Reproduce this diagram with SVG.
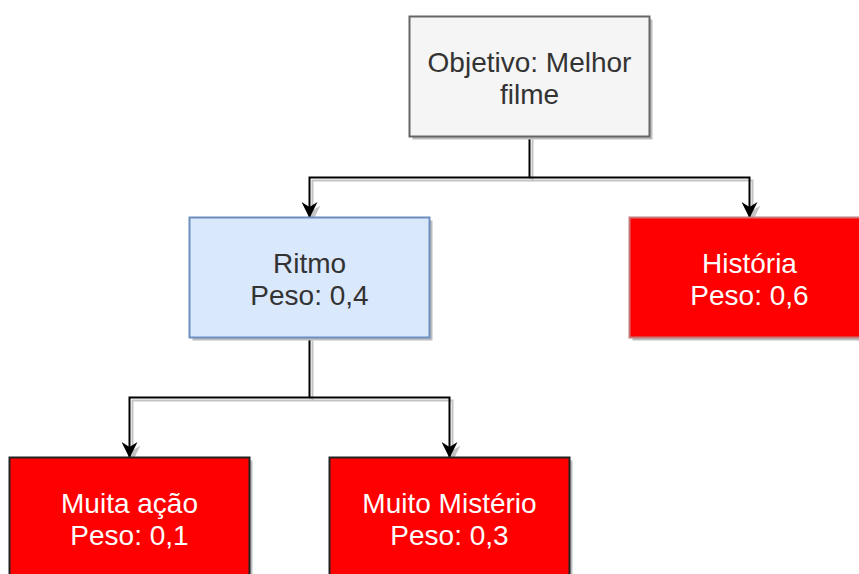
<svg xmlns="http://www.w3.org/2000/svg" width="859" height="574" viewBox="0 0 859 574">
<defs>
<style>
.t{font-family:"Liberation Sans",Arial,sans-serif;font-size:28px;text-anchor:middle}
.dk{fill:#333333}
.wh{fill:#ffffff}
.sh{fill:#bdbdbd}
.ln{fill:none;stroke:#000000;stroke-width:2}
.lns{fill:none;stroke:#c4c4c4;stroke-width:2}
</style>
<marker id="ah" markerUnits="userSpaceOnUse" viewBox="0 0 16 16" refX="15" refY="8" markerWidth="16" markerHeight="16" orient="auto">
<path d="M0,0 L16,8 L0,16 L5,8 Z" fill="#000000"/>
</marker>
<marker id="ahs" markerUnits="userSpaceOnUse" viewBox="0 0 16 16" refX="15" refY="8" markerWidth="16" markerHeight="16" orient="auto">
<path d="M0,0 L16,8 L0,16 L5,8 Z" fill="#c4c4c4"/>
</marker>
</defs>
<rect width="859" height="574" fill="#ffffff"/>
<g id="connectors">
<path class="lns" d="M532.5,139.5 V180.5 H312.5 V220.5" marker-end="url(#ahs)"/>
<path class="lns" d="M532.5,180.5 H752.5 V220.5" marker-end="url(#ahs)"/>
<path class="lns" d="M312.5,340.5 V400.5 H132.5 V460.5" marker-end="url(#ahs)"/>
<path class="lns" d="M312.5,400.5 H452.5 V460.5" marker-end="url(#ahs)"/>
<path class="ln" d="M529.5,137 V177.5 H309.5 V217" marker-end="url(#ah)"/>
<path class="ln" d="M529.5,177.5 H749.5 V217" marker-end="url(#ah)"/>
<path class="ln" d="M309.5,338 V397.5 H129.5 V457" marker-end="url(#ah)"/>
<path class="ln" d="M309.5,397.5 H449.5 V457" marker-end="url(#ah)"/>
</g>
<g id="objetivo">
<rect class="sh" x="412.5" y="19.5" width="240" height="120"/>
<rect x="409.5" y="16.5" width="240" height="120" fill="#f5f5f5" stroke="#666666" stroke-width="2"/>
<text class="t dk" x="529.5" y="72">Objetivo: Melhor</text>
<text class="t dk" x="529.5" y="104">filme</text>
</g>
<g id="ritmo">
<rect class="sh" x="192.5" y="220.5" width="240" height="120"/>
<rect x="189.5" y="217.5" width="240" height="120" fill="#dae8fc" stroke="#6c8ebf" stroke-width="2"/>
<text class="t dk" x="309.5" y="273">Ritmo</text>
<text class="t dk" x="309.5" y="305">Peso: 0,4</text>
</g>
<g id="historia">
<rect class="sh" x="632.5" y="220.5" width="240" height="120"/>
<rect x="629.5" y="217.5" width="240" height="120" fill="#ff0000" stroke="#c87878" stroke-width="2"/>
<text class="t wh" x="749.5" y="273">História</text>
<text class="t wh" x="749.5" y="305">Peso: 0,6</text>
</g>
<g id="muita-acao">
<rect class="sh" x="12.5" y="460.5" width="240" height="120"/>
<rect x="9.5" y="457.5" width="240" height="120" fill="#ff0000" stroke="#222222" stroke-width="2"/>
<text class="t wh" x="129.5" y="513">Muita ação</text>
<text class="t wh" x="129.5" y="545">Peso: 0,1</text>
</g>
<g id="muito-misterio">
<rect class="sh" x="332.5" y="460.5" width="240" height="120"/>
<rect x="329.5" y="457.5" width="240" height="120" fill="#ff0000" stroke="#222222" stroke-width="2"/>
<text class="t wh" x="449.5" y="513">Muito Mistério</text>
<text class="t wh" x="449.5" y="545">Peso: 0,3</text>
</g>
</svg>
